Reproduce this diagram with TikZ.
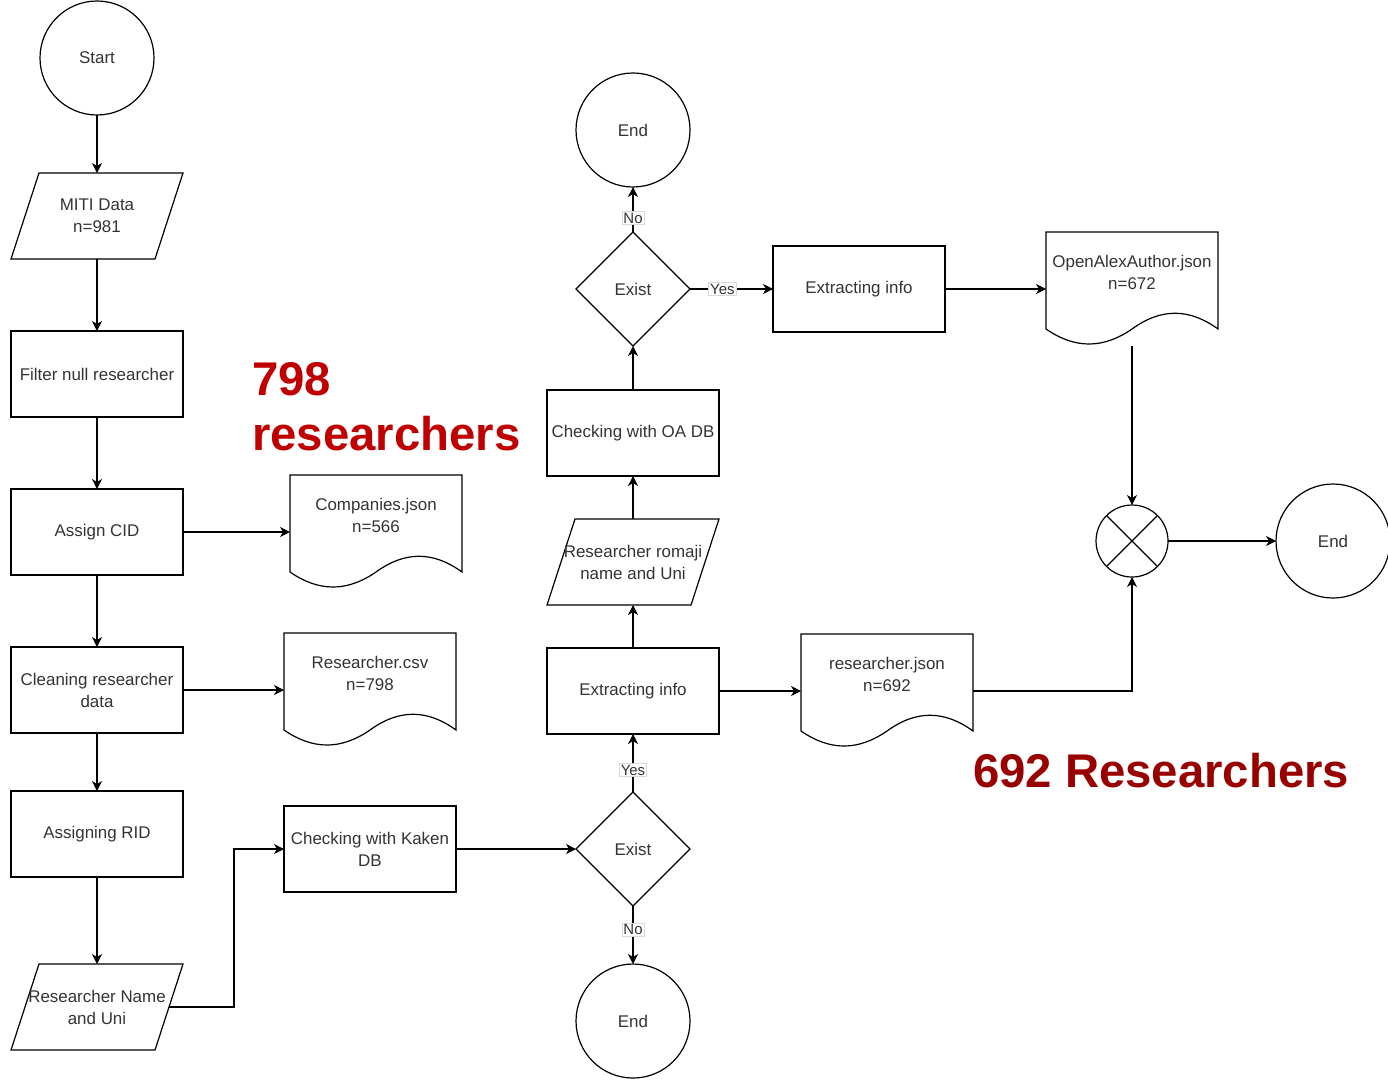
\documentclass[tikz,border=0pt]{standalone}
\usepackage{fontspec}
\setmainfont{Liberation Sans}
\usetikzlibrary{positioning}
\usetikzlibrary{shapes.geometric}
\usetikzlibrary{arrows.meta}

\definecolor{countred}{HTML}{C00000}
\definecolor{countdarkred}{HTML}{990000}

\begin{document}
\begin{tikzpicture}[x=1bp, y=-1bp, line width=1.2bp, >={Stealth[length=10bp,width=10bp,inset=3bp]},
  font=\fontsize{17}{22}\selectfont, text=black!80, align=center, outer sep=0bp,
  endnode/.style={circle,draw,minimum size=114bp,inner sep=0bp},
  procnode/.style={rectangle,draw,minimum width=172bp,minimum height=86bp,inner sep=0bp},
  decnode/.style={diamond,draw,minimum width=114bp,minimum height=114bp,inner sep=0bp},
  ionode/.style={rectangle,minimum width=172bp,minimum height=86bp,inner sep=0bp,
    append after command={\pgfextra{\let\ioname\tikzlastnode
      \draw ([xshift=28bp]\ioname.north west) -- (\ioname.north east)
        -- ([xshift=-28bp]\ioname.south east) -- (\ioname.south west) -- cycle;}}},
  docnode/.style={rectangle,minimum width=172bp,minimum height=114bp,inner sep=0bp,
    label={[yshift=17bp]center:#1},
    append after command={\pgfextra{\let\docname\tikzlastnode
      \draw[shift={(\docname.north west)}] (0,0) -- (172,0) -- (172,97)
        .. controls (143,76) and (115,76) .. (86,97)
        .. controls (57,117) and (29,117) .. (0,97) -- cycle;}}},
  mergenode/.style={circle,draw,minimum size=72bp,inner sep=0bp},
  answer/.style={fill=white,draw=black!15,line width=0.6bp,inner sep=1.5bp,font=\fontsize{15}{18}\selectfont},
  bigcount/.style={font=\bfseries\fontsize{47.5}{56}\selectfont,inner sep=0bp,align=left}]
  \useasboundingbox (0,0) rectangle (1388,1080);
  % left column
  \node[endnode] (start) at (97,58) {Start};
  \node[ionode] (miti) [below=58bp of start] {MITI Data\\n=981};
  \node[procnode] (filter) [below=72bp of miti] {Filter null researcher};
  \node[procnode] (cid) [below=72bp of filter] {Assign CID};
  \node[procnode] (clean) [below=72bp of cid] {Cleaning researcher\\data};
  \node[procnode] (rid) [below=58bp of clean] {Assigning RID};
  \node[ionode] (rname) [below=87bp of rid] {Researcher Name\\and Uni};
  % files and Kaken check
  \node[docnode={Companies.json\\n=566}] (companies) [right=107bp of cid] {};
  \node[docnode={Researcher.csv\\n=798}] (csv) [right=101bp of clean] {};
  \node[procnode] (kaken) [below=59bp of csv] {Checking with Kaken\\DB};
  % Kaken / OpenAlex column
  \node[decnode] (existkaken) [right=120bp of kaken] {Exist};
  \node[endnode] (endkaken) [below=58bp of existkaken] {End};
  \node[procnode] (extractkaken) [above=58bp of existkaken] {Extracting info};
  \node[ionode] (romaji) [above=43bp of extractkaken] {Researcher romaji\\name and Uni};
  \node[procnode] (checkoa) [above=43bp of romaji] {Checking with OA DB};
  \node[decnode] (existoa) [above=44bp of checkoa] {Exist};
  \node[endnode] (endoa) [above=45bp of existoa] {End};
  \node[procnode] (extractoa) [right=83bp of existoa] {Extracting info};
  \node[docnode={OpenAlexAuthor.json\\n=672}] (openalex) [right=101bp of extractoa] {};
  \node[docnode={researcher.json\\n=692}] (rjson) [right=82bp of extractkaken] {};
  \node[mergenode] (merge) [below=159bp of openalex] {};
  \node[endnode] (endmerge) [right=108bp of merge] {End};
  % counts
  \node[bigcount, text=countred, anchor=north west] (count798) at (252,362) {798\\researchers};
  \node[bigcount, text=countdarkred, anchor=base west] (count692) at (973,787) {692 Researchers};
  % connectors
  \draw[->] (start) -- (miti);
  \draw[->] (miti) -- (filter);
  \draw[->] (filter) -- (cid);
  \draw[->] (cid) -- (clean);
  \draw[->] (clean) -- (rid);
  \draw[->] (rid) -- (rname);
  \draw[->] (cid) -- (companies);
  \draw[->] (clean) -- (csv);
  \draw[->] ([xshift=-14bp]rname.east) -- ++(65,0) |- (kaken);
  \draw[->] (kaken) -- (existkaken);
  \draw[->] (existkaken) -- node[answer,pos=0.41] {No} (endkaken);
  \draw[->] (existkaken) -- node[answer,pos=0.38] {Yes} (extractkaken);
  \draw[->] (extractkaken) -- (romaji);
  \draw[->] (romaji) -- (checkoa);
  \draw[->] (checkoa) -- (existoa);
  \draw[->] (existoa) -- node[answer,pos=0.31] {No} (endoa);
  \draw[->] (existoa) -- node[answer,pos=0.39] {Yes} (extractoa);
  \draw[->] (extractoa) -- (openalex);
  \draw[->] (extractkaken) -- (rjson);
  \draw[->] (openalex) -- (merge);
  \draw[->] (rjson) -| (merge);
  \draw[->] (merge) -- (endmerge);
  \draw (merge.north west) -- (merge.south east) (merge.north east) -- (merge.south west);
\end{tikzpicture}
\end{document}
